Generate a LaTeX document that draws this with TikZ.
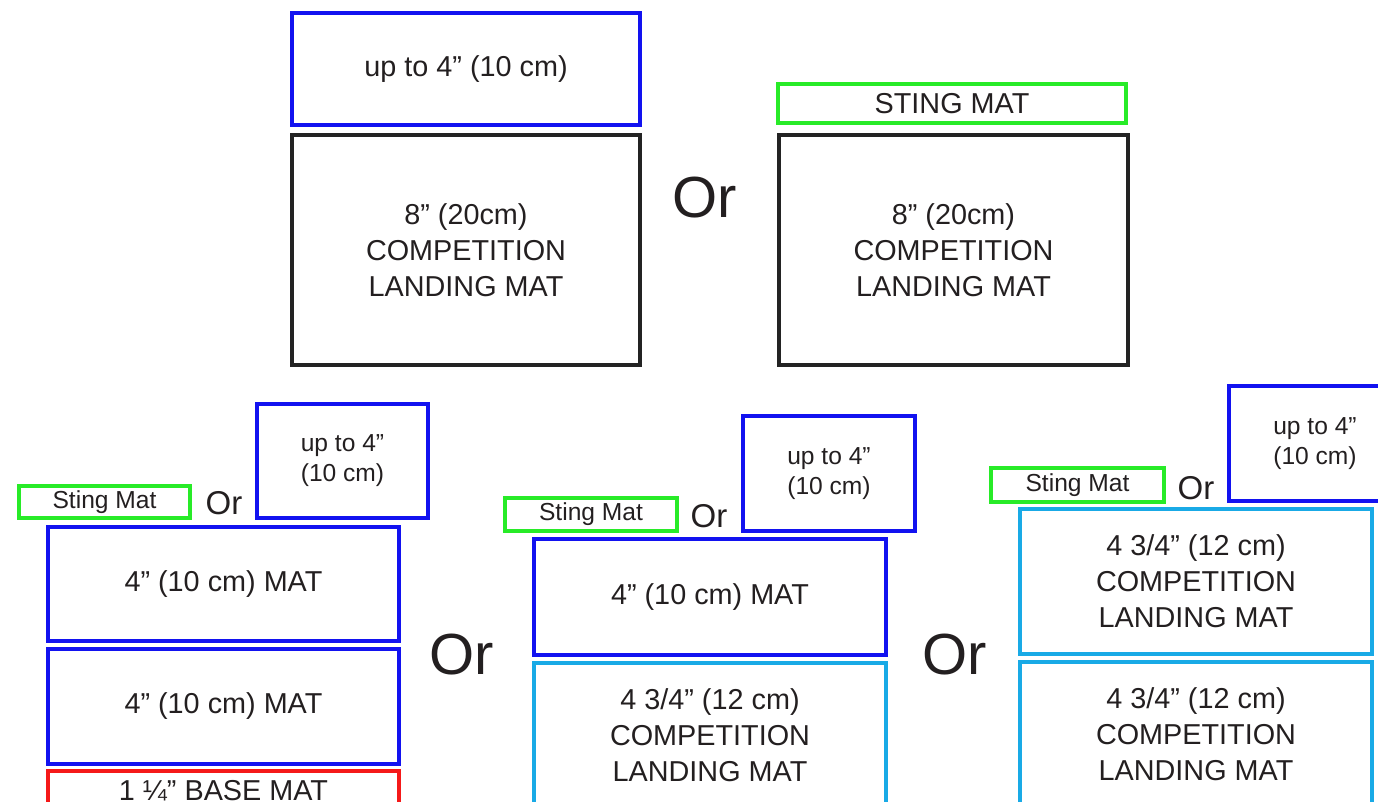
\documentclass[tikz,border=0pt]{standalone}
\usepackage{fontspec}
\setmainfont{Liberation Sans}
\definecolor{matblue}{RGB}{18,18,240}
\definecolor{matgreen}{RGB}{40,235,40}
\definecolor{matcyan}{RGB}{25,170,230}
\definecolor{matred}{RGB}{245,25,25}
\definecolor{matblack}{RGB}{35,35,35}
\definecolor{ink}{RGB}{35,31,32}
\begin{document}
\begin{tikzpicture}[x=0.5pt, y=-0.5pt,
        mat/.style={rectangle, draw, line width=2pt, inner sep=0pt, align=center, text=ink,
            font=\fontsize{14.4}{18}\selectfont},
        small/.style={mat, font=\fontsize{12.3}{15}\selectfont},
        ortext/.style={inner sep=0pt, text=ink, font=\fontsize{29}{32}\selectfont},
        orsmall/.style={inner sep=0pt, text=ink, font=\fontsize{16.5}{18}\selectfont}]
        \useasboundingbox (0, 0) rectangle (1378, 802);
        % top row
        \node[mat, draw=matblue, minimum width=174pt, minimum height=56pt] (upA) at (466, 69) {up to 4” (10 cm)};
        \node[mat, draw=matblack, minimum width=174pt, minimum height=115pt] (landA) at (466, 250) {8” (20cm)\\COMPETITION\\LANDING MAT};
        \node[ortext] (orA) at (705, 198) {Or};
        \node[mat, draw=matgreen, minimum width=174pt, minimum height=19.5pt] (stingA) at (952, 103.5) {STING MAT};
        \node[mat, draw=matblack, minimum width=174.5pt, minimum height=115pt] (landB) at (953.5, 250) {8” (20cm)\\COMPETITION\\LANDING MAT};
        % bottom left
        \node[small, draw=matgreen, minimum width=85.5pt, minimum height=16pt] (stingB) at (104.5, 502) {Sting Mat};
        \node[orsmall] (orB) at (224, 503) {Or};
        \node[small, draw=matblue, minimum width=85.5pt, minimum height=57pt] (upB) at (342.5, 461) {up to 4”\\(10 cm)};
        \node[mat, draw=matblue, minimum width=175.5pt, minimum height=57pt] (matB1) at (223.5, 584) {4” (10 cm) MAT};
        \node[mat, draw=matblue, minimum width=175.5pt, minimum height=57.5pt] (matB2) at (223.5, 706.5) {4” (10 cm) MAT};
        \node[mat, draw=matred, minimum width=175.5pt, minimum height=20pt] (baseB) at (223.5, 791) {1 ¼” BASE MAT};
        \node[ortext] (orC) at (462, 655) {Or};
        % bottom middle
        \node[small, draw=matgreen, minimum width=86pt, minimum height=16.5pt] (stingC) at (591, 514.5) {Sting Mat};
        \node[orsmall] (orD) at (709, 516) {Or};
        \node[small, draw=matblue, minimum width=86pt, minimum height=57.5pt] (upC) at (829, 473.5) {up to 4”\\(10 cm)};
        \node[mat, draw=matblue, minimum width=176pt, minimum height=58pt] (matC) at (710, 597) {4” (10 cm) MAT};
        \node[mat, draw=matcyan, minimum width=176pt, minimum height=72.5pt] (compC) at (710, 735) {4 3/4” (12 cm)\\COMPETITION\\LANDING MAT};
        \node[ortext] (orE) at (955, 655) {Or};
        % bottom right
        \node[small, draw=matgreen, minimum width=86.5pt, minimum height=17pt] (stingD) at (1077.5, 485) {Sting Mat};
        \node[orsmall] (orF) at (1196, 488) {Or};
        \node[small, draw=matblue, minimum width=86pt, minimum height=57.5pt] (upD) at (1315, 443.5) {up to 4”\\(10 cm)};
        \node[mat, draw=matcyan, minimum width=176pt, minimum height=72.5pt] (compD1) at (1196, 581.5) {4 3/4” (12 cm)\\COMPETITION\\LANDING MAT};
        \node[mat, draw=matcyan, minimum width=176pt, minimum height=72.5pt] (compD2) at (1196, 734) {4 3/4” (12 cm)\\COMPETITION\\LANDING MAT};
    \end{tikzpicture}
\end{document}
